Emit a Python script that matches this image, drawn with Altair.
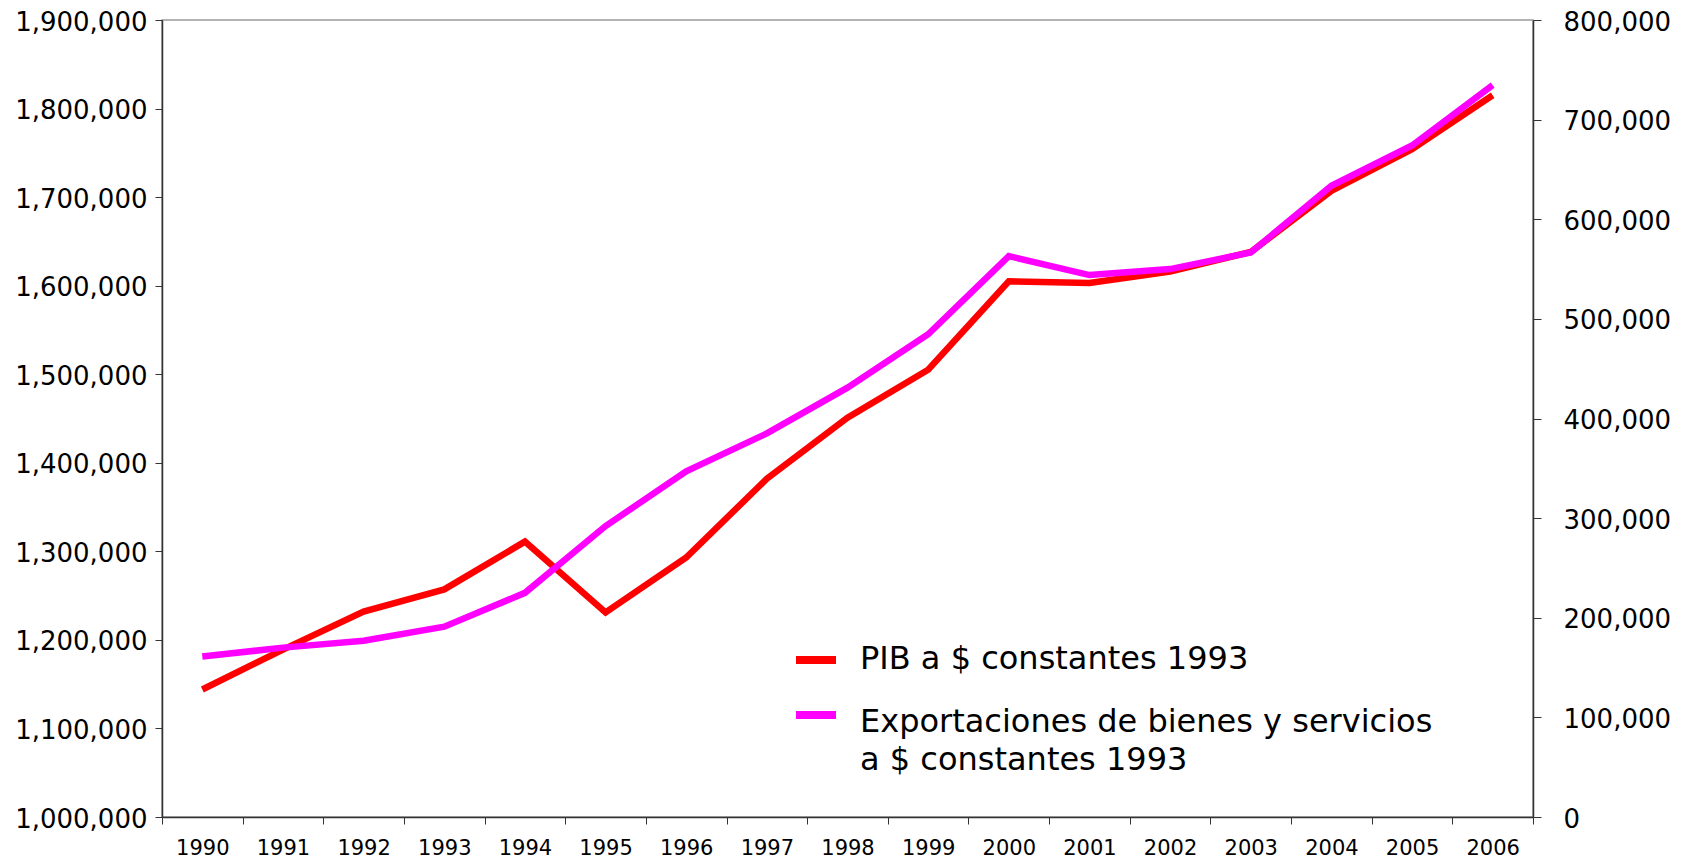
import altair as alt
import pandas as pd

years = ["1990", "1991", "1992", "1993", "1994", "1995", "1996", "1997", "1998",
         "1999", "2000", "2001", "2002", "2003", "2004", "2005", "2006"]
pib = [1144000, 1189000, 1232000, 1257000, 1311000, 1231000, 1293000, 1382000, 1451000,
       1505000, 1605000, 1603000, 1616000, 1638000, 1707000, 1754000, 1815000]
exportaciones = [161000, 170000, 177000, 191000, 225000, 292000, 347000, 385000, 431000,
                 484500, 563000, 544000, 550000, 566600, 633600, 674000, 734600]
left_ticks = [1000000, 1100000, 1200000, 1300000, 1400000, 1500000, 1600000, 1700000, 1800000, 1900000]
right_ticks = [0, 100000, 200000, 300000, 400000, 500000, 600000, 700000, 800000]
legend_lines = ["PIB a $ constantes 1993", "Exportaciones de bienes y servicios", "a $ constantes 1993"]
colors = ["#FF0000", "#FF00FF"]

df = pd.DataFrame({"year": years, "pib": pib, "exp": exportaciones})

FONT = "DejaVu Sans"
AX = "#333333"

x = alt.X(
    "year:O",
    scale=alt.Scale(type="band", paddingInner=0, paddingOuter=0),
    axis=alt.Axis(title=None, labelAngle=0, tickBand="extent", labelFontSize=21,
                  labelFont=FONT, labelColor="black", labelPadding=13, tickSize=7,
                  domainColor=AX, tickColor=AX, domainWidth=1.5, grid=False),
)

red = alt.Chart(df).mark_line(color=colors[0], strokeWidth=6.5, strokeCap="butt",
                              strokeJoin="miter").encode(
    x=x,
    y=alt.Y("pib:Q",
            scale=alt.Scale(domain=[1000000, 1900000], zero=False, nice=False),
            axis=alt.Axis(title=None, orient="left", values=left_ticks, format=",.0f",
                          labelFontSize=26, labelFont=FONT, labelColor="black",
                          labelPadding=8, labelOffset=2, tickSize=7, domainColor=AX,
                          tickColor=AX, domainWidth=1.5, grid=False)),
)

mag = alt.Chart(df).mark_line(color=colors[1], strokeWidth=6.5, strokeCap="butt",
                              strokeJoin="miter").encode(
    x=x,
    y=alt.Y("exp:Q",
            scale=alt.Scale(domain=[0, 800000], zero=False, nice=False),
            axis=alt.Axis(title=None, orient="right", values=right_ticks, format=",.0f",
                          labelFontSize=26, labelFont=FONT, labelColor="black",
                          labelPadding=22, labelOffset=2, tickSize=8, domainColor=AX,
                          tickColor=AX, domainWidth=1.5, grid=False)),
)

one = pd.DataFrame({"k": [0]})

def leg_rule(color, ypix):
    return alt.Chart(one).mark_rule(color=color, strokeWidth=8, strokeCap="butt").encode(
        x=alt.value(634), x2=alt.value(674), y=alt.value(ypix))

def leg_text(txt, ypix):
    return alt.Chart(pd.DataFrame({"t": [txt]})).mark_text(
        align="left", baseline="middle", fontSize=32, font=FONT, color="black").encode(
        text="t:N", x=alt.value(698), y=alt.value(ypix))

chart = alt.layer(
    red, mag,
    leg_rule(colors[0], 640), leg_text(legend_lines[0], 639),
    leg_rule(colors[1], 695), leg_text(legend_lines[1], 702), leg_text(legend_lines[2], 740),
).resolve_scale(y="independent").properties(
    width=1371, height=797,
    padding={"left": 154, "top": 12, "right": 140, "bottom": 41},
    autosize=alt.AutoSizeParams(type="none"),
).configure_view(stroke="#9a9a9a", strokeWidth=1.5)

chart.save("out.html", embed_options={"renderer": "svg", "actions": False})
